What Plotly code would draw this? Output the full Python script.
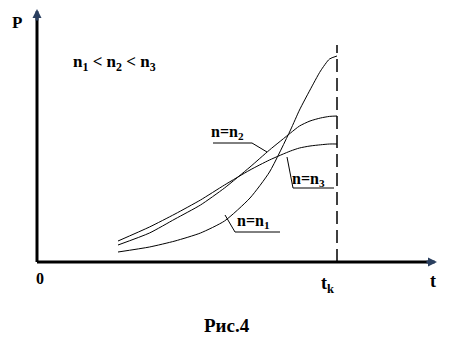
import plotly.graph_objects as go

# ---- data (t in units where t_k = 10, P arbitrary units) ----
t_vals = [2.7, 3.75, 4.6, 5.45, 6.25, 7.1, 7.75, 8.45, 8.75, 9.1, 9.45, 9.75, 10.0]
p_n1 = [0.5, 0.75, 1.05, 1.45, 2.05, 3.2, 4.5, 6.6, 7.6, 8.6, 9.55, 10.15, 10.3]
p_n2 = [0.85, 1.45, 2.15, 2.85, 3.7, 4.75, 5.6, 6.45, 6.8, 7.05, 7.2, 7.28, 7.3]
p_n3 = [1.05, 1.75, 2.4, 3.1, 3.85, 4.6, 5.1, 5.55, 5.7, 5.8, 5.86, 5.9, 5.9]
t_k = 10.0
series_labels = ["n=n<sub>1</sub>", "n=n<sub>2</sub>", "n=n<sub>3</sub>"]

W, H = 449, 352
X0, Y0 = 37, 262      # pixel position of origin
SX, SY = 30.0, 20.0   # pixels per unit


def tx(px):
    return (px - X0) / SX


def ty(py):
    return (Y0 - py) / SY


FONT = dict(family="Liberation Serif", size=16, color="black")

fig = go.Figure()
for p in (p_n1, p_n2, p_n3):
    fig.add_trace(go.Scatter(x=t_vals, y=p, mode="lines",
                             line=dict(color="black", width=1, shape="spline", smoothing=0.6),
                             showlegend=False, hoverinfo="skip"))

shapes = []
# axes
shapes.append(dict(type="line", x0=0, y0=0, x1=0, y1=ty(16), line=dict(color="black", width=3)))
shapes.append(dict(type="line", x0=0, y0=0, x1=tx(430), y1=0, line=dict(color="black", width=3)))
# dashed t_k line
shapes.append(dict(type="line", x0=t_k, y0=0, x1=t_k, y1=ty(45),
                   line=dict(color="black", width=1.5, dash="13px,6px")))


def seg(a, b, c, d):
    shapes.append(dict(type="line", x0=tx(a), y0=ty(b), x1=tx(c), y1=ty(d),
                       line=dict(color="black", width=1)))


# leaders
seg(213, 143, 252, 143); seg(252, 143, 267, 152)      # n2
seg(293, 188, 334, 188); seg(293, 188, 287, 157)      # n3
seg(235, 232, 280, 232); seg(235, 232, 225, 215)      # n1

annotations = []
# arrow heads
annotations.append(dict(x=0, y=ty(9), ax=0, ay=ty(22), xref="x", yref="y", axref="x", ayref="y",
                        showarrow=True, arrowhead=2, arrowsize=0.6, arrowwidth=3, text=""))
annotations.append(dict(x=tx(437), y=0, ax=tx(425), ay=0, xref="x", yref="y", axref="x", ayref="y",
                        showarrow=True, arrowhead=2, arrowsize=0.6, arrowwidth=3, text=""))


def txt(s, px, py, size=16, xanchor="left"):
    f = dict(FONT); f["size"] = size
    annotations.append(dict(x=tx(px), y=ty(py), xref="x", yref="y", text="<b>" + s + "</b>",
                            showarrow=False, font=f, xanchor=xanchor, yanchor="middle"))


txt("P", 10, 22, 17)
txt("n<sub>1</sub> &lt; n<sub>2</sub> &lt; n<sub>3</sub>", 71, 63, 17)
txt(series_labels[1], 209, 132)
txt(series_labels[2], 290, 179)
txt(series_labels[0], 235, 221)
txt("0", 34, 278, 16)
txt("t<sub>k</sub>", 319, 284, 18)
txt("t", 428, 281, 18)
txt("Рис.4", 227, 325, 19, xanchor="center")

fig.update_layout(
    width=W, height=H, margin=dict(l=0, r=0, t=0, b=0),
    paper_bgcolor="white", plot_bgcolor="white",
    xaxis=dict(range=[tx(0), tx(W)], visible=False, fixedrange=True),
    yaxis=dict(range=[ty(H), ty(0)], visible=False, fixedrange=True),
    shapes=shapes, annotations=annotations,
)
fig.write_html("out.html", config=dict(displayModeBar=False))
